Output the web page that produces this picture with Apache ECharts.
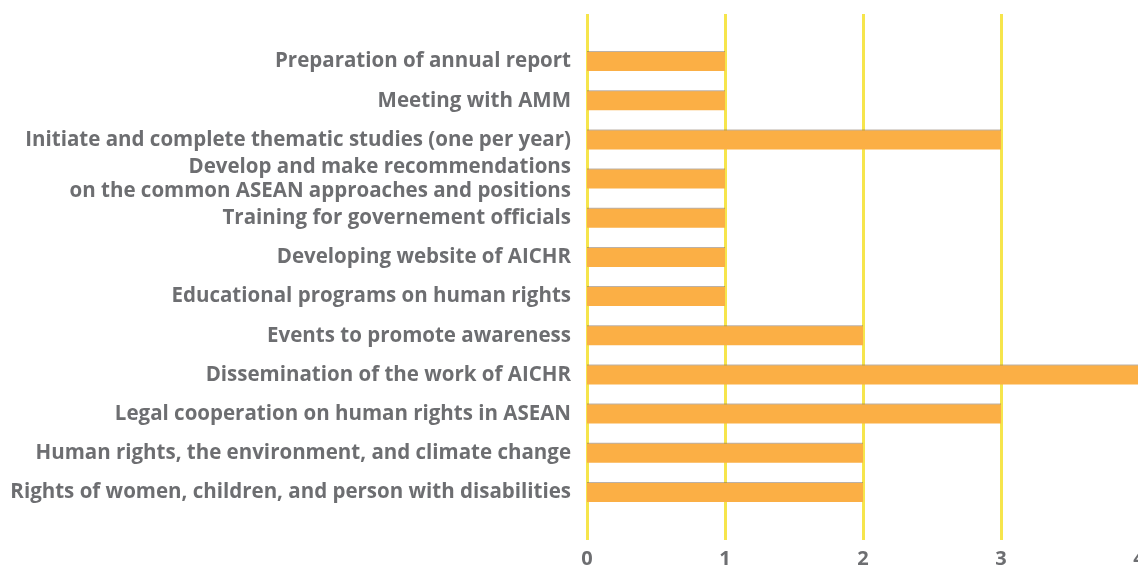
<!DOCTYPE html>
<html><head><meta charset="utf-8">
<script src="https://cdn.jsdelivr.net/npm/echarts@6/dist/echarts.min.js"></script>
<style>html,body{margin:0;padding:0;background:#fff}#c{width:1138px;height:568px}</style>
</head><body><div id="c"></div>
<script>
const categories = [
  "Preparation of annual report",
  "Meeting with AMM",
  "Initiate and complete thematic studies (one per year)",
  "Develop and make recommendations\non the common ASEAN approaches and positions",
  "Training for governement officials",
  "Developing website of AICHR",
  "Educational programs on human rights",
  "Events to promote awareness",
  "Dissemination of the work of AICHR",
  "Legal cooperation on human rights in ASEAN",
  "Human rights, the environment, and climate change",
  "Rights of women, children, and person with disabilities"
];
const values = [1, 1, 3, 1, 1, 1, 1, 2, 4, 3, 2, 2];
const xTicks = [0, 1, 2, 3, 4];

const txt = '#6d6e71';
const font = 'Open Sans';
const chart = echarts.init(document.getElementById('c'));
chart.setOption({
  animation: false,
  grid: [
    {left: 587, width: 552, top: 42, height: 470, outerBoundsMode: 'none', containLabel: false},
    {left: 587, width: 552, top: 14, height: 526, outerBoundsMode: 'none', containLabel: false}
  ],
  xAxis: [
    {gridIndex: 0, type: 'value', min: xTicks[0], max: xTicks[xTicks.length-1], interval: 1,
     axisLine: {show: false}, axisTick: {show: false}, axisLabel: {show: false}, splitLine: {show: false}},
    {gridIndex: 1, type: 'value', min: xTicks[0], max: xTicks[xTicks.length-1], interval: 1,
     axisLine: {show: false}, axisTick: {show: false},
     axisLabel: {color: txt, fontFamily: font, fontWeight: 'bold', fontSize: 20, margin: 9,
                 formatter: v => xTicks.includes(v) ? String(v) : ''},
     splitLine: {show: true, showMinLine: true, showMaxLine: true, lineStyle: {color: '#F6E54C', width: 3}}}
  ],
  yAxis: [
    {gridIndex: 0, type: 'category', data: categories, inverse: true,
     axisLine: {show: false}, axisTick: {show: false},
     axisLabel: {color: txt, fontFamily: font, fontWeight: 'bold', fontSize: 20.5, margin: 16, lineHeight: 24}},
    {gridIndex: 1, type: 'value', show: false}
  ],
  series: [
    {type: 'bar', xAxisIndex: 0, yAxisIndex: 0, data: values, barWidth: 19, z: 3,
     itemStyle: {color: '#FBAF45', shadowColor: 'rgba(120,100,80,0.5)', shadowOffsetY: -1, shadowBlur: 0}}
  ]
});
</script></body></html>
